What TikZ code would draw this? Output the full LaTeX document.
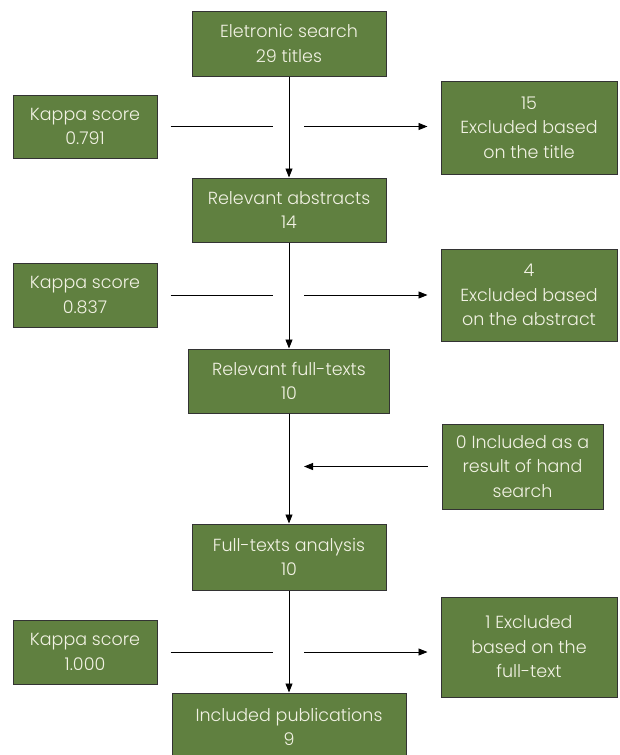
\documentclass[tikz,border=0pt]{standalone}
\usepackage{fontspec}
\IfFontExistsTF{Poppins Light}{\setmainfont{Poppins Light}}{\setmainfont{Poppins}}
\usepackage{xcolor}
\usetikzlibrary{arrows.meta}

\definecolor{boxgreen}{RGB}{96,128,64}
\definecolor{boxtext}{RGB}{242,242,228}

\begin{document}
\begin{tikzpicture}[x=1pt, y=-1pt,
  box/.style={draw=black!80, line width=1pt, fill=boxgreen, text=boxtext, align=center,
    inner sep=0pt, font=\fontsize{17.5}{24.5}\selectfont},
  flow/.style={->, >={Triangle[length=9pt,width=7pt]}, line width=0.8pt},
  kapline/.style={line width=0.8pt}]

\useasboundingbox (0,0) rectangle (619,755);

% Main column
\node[box, minimum width=194pt, minimum height=65pt] (search) at (289,43.5) {Eletronic search\\29 titles};
\node[box, minimum width=194pt, minimum height=64pt] (abstracts) at (289,210) {Relevant abstracts\\14};
\node[box, minimum width=201pt, minimum height=64pt] (fulltexts) at (289,381) {Relevant full-texts\\10};
\node[box, minimum width=194pt, minimum height=66pt] (analysis) at (289,557) {Full-texts analysis\\10};
\node[box, minimum width=234pt, minimum height=68pt] (included) at (289,727) {Included publications\\9};

% Kappa scores
\node[box, minimum width=144pt, minimum height=63pt] (kappaA) at (85,126.5) {Kappa score\\0.791};
\node[box, minimum width=144pt, minimum height=64pt] (kappaB) at (85,295) {Kappa score\\0.837};
\node[box, minimum width=144pt, minimum height=64pt] (kappaC) at (85,652) {Kappa score\\1.000};

% Excluded and added records
\node[box, minimum width=176pt, minimum height=93pt] (exclA) at (529,127.5) {15\\Excluded based\\on the title};
\node[box, minimum width=176pt, minimum height=92pt] (exclB) at (529,295) {4\\Excluded based\\on the abstract};
\node[box, minimum width=161pt, minimum height=85pt] (hand) at (522.5,466.5) {0 Included as a\\result of hand\\search};
\node[box, minimum width=176pt, minimum height=100pt] (exclC) at (529,647) {1 Excluded\\based on the\\full-text};

% Vertical flow
\draw[flow] (search) -- (abstracts);
\draw[flow] (abstracts) -- (fulltexts);
\draw[flow] (fulltexts) -- (analysis);
\draw[flow] (analysis) -- (included);

% Side lines
\draw[kapline, shorten <=13pt, shorten >=16pt] (kappaA) -- (kappaA -| search);
\draw[flow, shorten <=15pt, shorten >=13pt] (kappaA -| search) -- (exclA.west |- kappaA);
\draw[kapline, shorten <=13pt, shorten >=16pt] (kappaB) -- (kappaB -| abstracts);
\draw[flow, shorten <=15pt, shorten >=13pt] (kappaB -| abstracts) -- (exclB.west |- kappaB);
\draw[flow, shorten <=14pt, shorten >=15pt] (hand) -- (hand -| fulltexts);
\draw[kapline, shorten <=13pt, shorten >=16pt] (kappaC) -- (kappaC -| analysis);
\draw[flow, shorten <=15pt, shorten >=13pt] (kappaC -| analysis) -- (exclC.west |- kappaC);

\end{tikzpicture}
\end{document}
